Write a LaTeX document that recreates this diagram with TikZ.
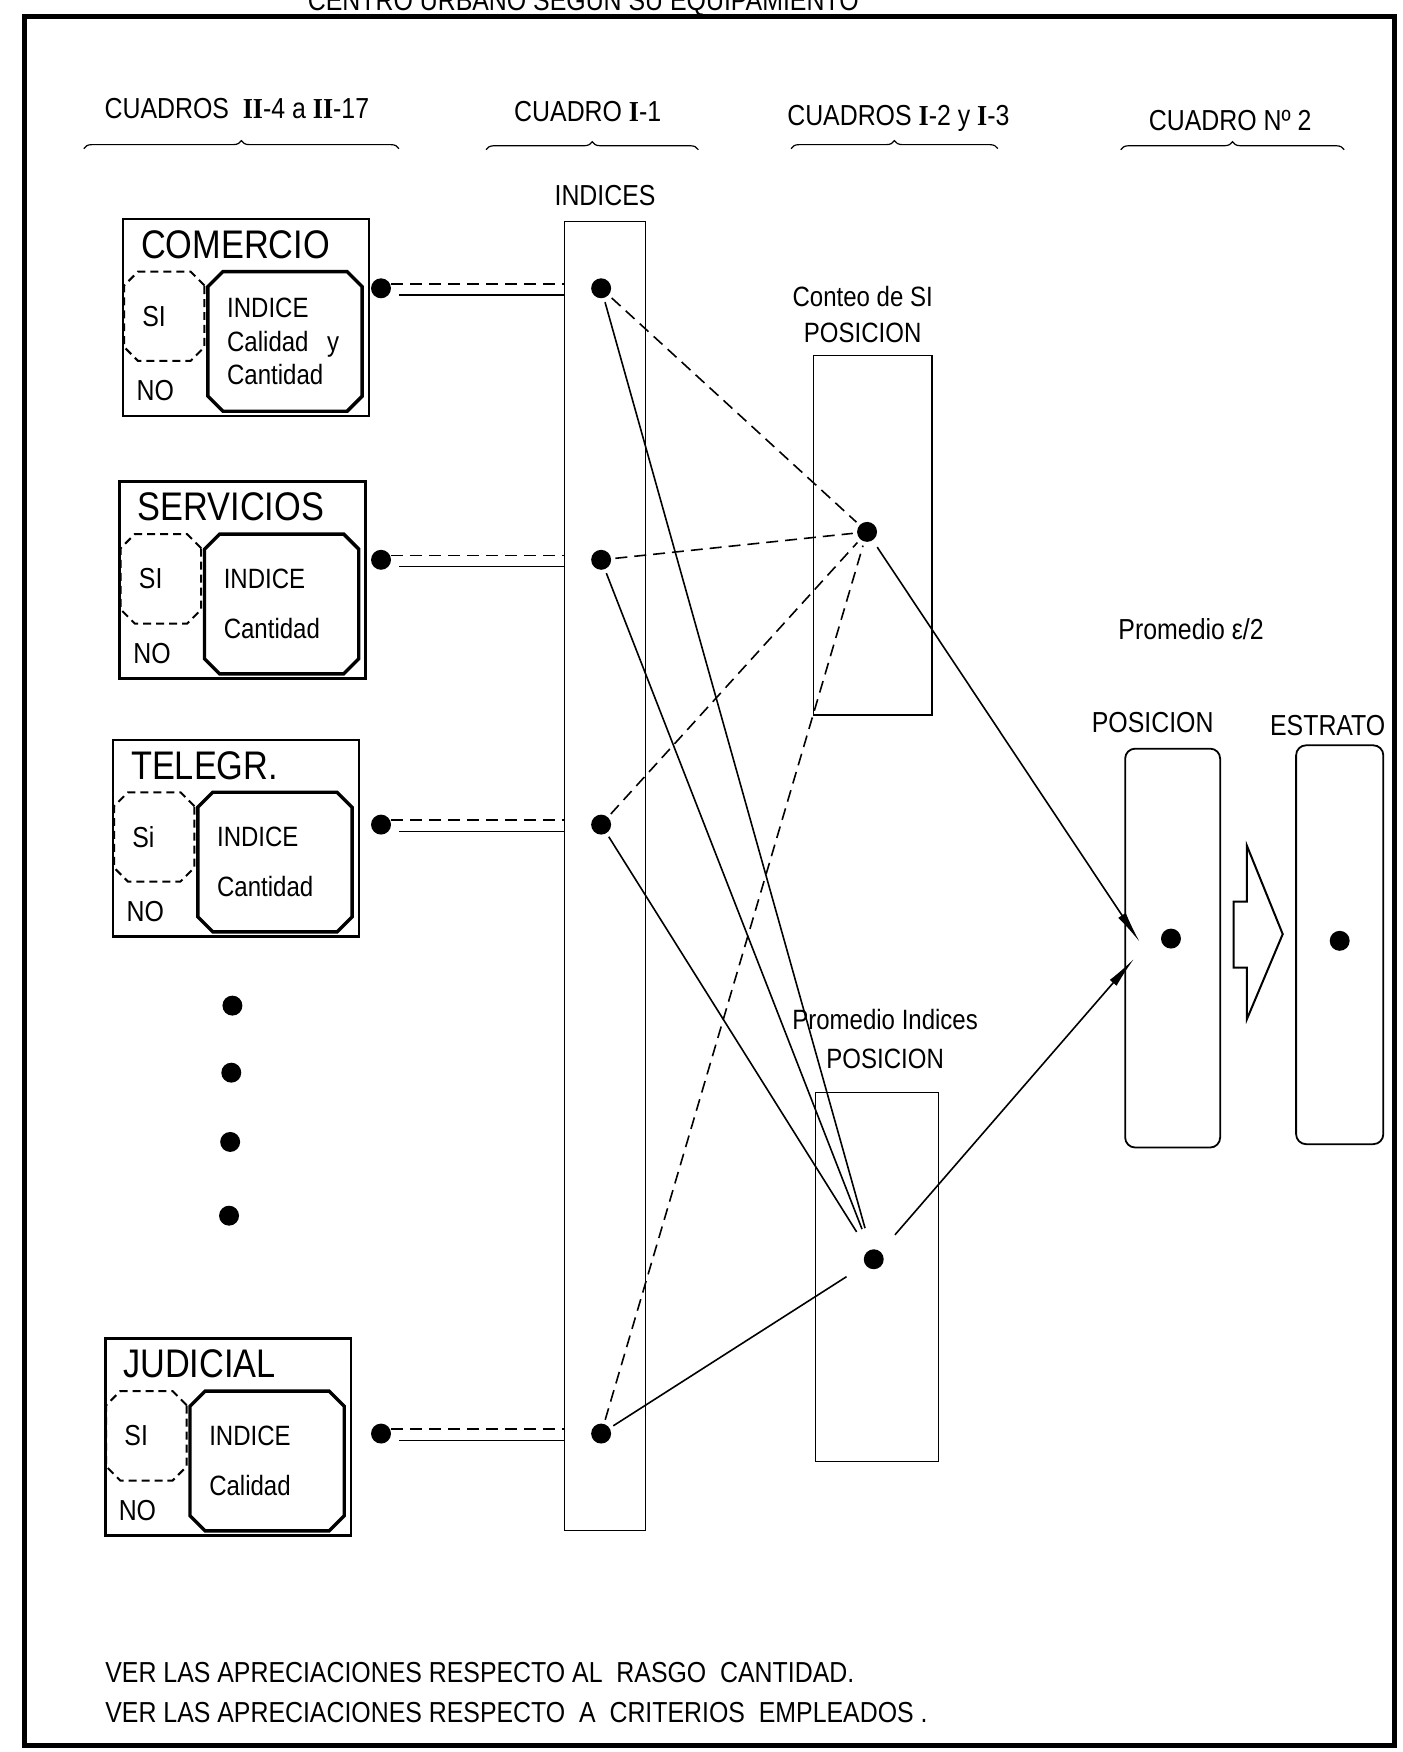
\documentclass[tikz,border=0pt]{standalone}
\usepackage{fontspec}
\setmainfont{Liberation Sans}[FakeStretch=0.86]
\newfontfamily\romanfont{Liberation Serif}[FakeStretch=0.9]
\usepackage{tikz}
\usetikzlibrary{shapes.misc, arrows.meta, positioning, calc, decorations.pathreplacing}
\newcommand{\rom}[1]{{\romanfont\bfseries #1}}

\begin{document}
\begin{tikzpicture}[
    x=0.56pt, y=-0.56pt,
    every node/.style={font=\fontsize{14.5}{17}\selectfont},
    sector/.style={rectangle, draw, line width=1.3pt, minimum width=123.2pt, minimum height=98.6pt, inner sep=0pt, anchor=north west},
    sino/.style={chamfered rectangle, chamfered rectangle xsep=3.5pt, draw, line width=1pt, dash pattern=on 4pt off 2.5pt, minimum width=40.3pt, minimum height=44.8pt, inner sep=0pt, align=left, text width=22pt},
    indbox/.style={chamfered rectangle, chamfered rectangle xsep=4pt, draw, line width=1.7pt, minimum width=77.3pt, minimum height=70pt, inner sep=2pt, align=left, text width=58pt, font=\fontsize{14}{17}\selectfont},
    ttl/.style={font=\fontsize{20}{24}\selectfont, inner sep=0pt},
    column/.style={rectangle, draw, line width=0.6pt, inner sep=0pt},
    tallbox/.style={rectangle, draw, line width=0.9pt, rounded corners=5pt, inner sep=0pt},
    dot/.style={circle, fill=black, inner sep=0pt, minimum size=10pt},
    link/.style={line width=0.8pt},
    dlink/.style={line width=0.8pt, dash pattern=on 6pt off 3.5pt},
    bracestyle/.style={decorate, decoration={brace, amplitude=4pt}, line width=0.6pt},
    bigtip/.style={-{Latex[length=16pt, width=4.5pt]}}
]
\useasboundingbox (0,0) rectangle (1255,1568);

% frame and title
\draw[line width=2.6pt] (22,15) rectangle (1248,1562);
\node[anchor=base] (title) at (522,9) {CENTRO URBANO SEGUN SU EQUIPAMIENTO};

% headers
\node (h1) at (212,97) {CUADROS\ \ \rom{II}-4 a \rom{II}-17};
\node (h2) at (526,100) {CUADRO \rom{I}-1};
\node (h3) at (804,106) {CUADROS \rom{I}-2 y \rom{I}-3};
\node (h4) at (1101,108) {CUADRO Nº 2};
\draw[bracestyle] (75,133) -- (357,133);
\draw[bracestyle] (435,134) -- (625,134);
\draw[bracestyle] (708,133) -- (893,133);
\draw[bracestyle] (1003,134) -- (1203,134);

% columns
\node[column, minimum width=40.9pt, minimum height=656.3pt] (indices) at (541.5,784) {};
\node[above=4pt of indices] (indices-l) {INDICES};
\node[column, minimum width=59.4pt, minimum height=180.3pt] (conteo) at (781,479) {};
\node[above=2.5pt of conteo, xshift=-5pt, align=center, font=\fontsize{14}{18}\selectfont] (conteo-l) {Conteo de SI\\POSICION};
\node[column, minimum width=61.6pt, minimum height=184.8pt] (promedio) at (785,1143) {};
\node[above=8pt of promedio, xshift=4pt, align=center, font=\fontsize{14}{19.6}\selectfont] (promedio-l) {Promedio Indices\\POSICION};
\node[dot] (cdot) at (776,476) {};
\node[dot] (pdot) at (782,1127) {};

% right part
\node[tallbox, minimum width=47.6pt, minimum height=199.9pt] (posicion) at (1049.5,848.5) {};
\node[tallbox, minimum width=43.7pt, minimum height=199.9pt] (estrato) at (1199,845.5) {};
\node[above=4pt of posicion, xshift=-10pt] (posicion-l) {POSICION};
\node[above=1pt of estrato, xshift=-6pt] (estrato-l) {ESTRATO};
\node (promedio-e) at (1066,563) {Promedio ε/2};
\node[dot] (posdot) at (1048,840) {};
\node[dot] (estdot) at (1199,842) {};
\draw[line width=1pt] (1104,807) -- (1116,807) -- (1116,757) -- (1148,836)
    -- (1116,912) -- (1116,866) -- (1104,866) -- cycle;

% arrows into POSICION
\coordinate (tipA) at (1020,843);
\coordinate (tipB) at (1015,858);
\draw[link, bigtip, shorten <=4pt] (cdot) -- (tipA);
\draw[link, bigtip, shorten <=11pt] (pdot) -- (tipB);

% sectors
\foreach \nm/\x/\y/\ttl/\si/\txt/\dy in {
    com/109/195/COMERCIO/SI/{INDICE\\Calidad\ \ y\\Cantidad}/258,
    ser/106/430/SERVICIOS/SI/{INDICE\\[8pt]Cantidad}/501,
    tel/100/661/TELEGR./Si/{INDICE\\[8pt]Cantidad}/738,
    jud/93/1197/JUDICIAL/SI/{INDICE\\[8pt]Calidad}/1283}{
  \node[sector] (\nm) at (\x,\y) {};
  \node[ttl, anchor=west] (\nm-t) at ([xshift=9.5pt, yshift=-13.4pt]\nm.north west) {\ttl};
  \node[sino] (\nm-si) at ([xshift=21.3pt, yshift=-49.3pt]\nm.north west) {\si};
  \node (\nm-n) at ([xshift=16.8pt, yshift=13.4pt]\nm.south west) {NO};
  \node[indbox] (\nm-ind) at ([xshift=81.8pt, yshift=-61.9pt]\nm.north west) {\txt};
  \node[dot] (\nm-dot) at (341,\dy) {};
  \node[dot] (\nm-idx) at (538,\dy) {};
  \draw[dlink] ($(\nm-dot.east)+(0pt,2.2pt)$) -- ($(\nm-dot.east -| indices.west)+(0pt,2.2pt)$);
  \draw[link] ($(\nm-dot.east)+(4pt,-3.4pt)$) -- ($(\nm-dot.east -| indices.west)+(0pt,-3.4pt)$);
  \draw[dlink, shorten <=2pt, shorten >=2pt] (\nm-idx) -- (cdot);
  \draw[link, shorten <=2pt, shorten >=11pt] (\nm-idx) -- (pdot);
}

% more sectors
\foreach \i/\xx/\yy in {1/208/900, 2/207/960, 3/206/1022, 4/205/1088}
  \node[dot] (v\i) at (\xx,\yy) {};

% notes
\node[anchor=west] (note1) at (88,1497) {VER LAS APRECIACIONES RESPECTO AL\ \ RASGO\ \ CANTIDAD.};
\node[anchor=west] (note2) at ([yshift=-20.2pt]note1.west) {VER LAS APRECIACIONES RESPECTO\ \ A\ \ CRITERIOS\ \ EMPLEADOS\ .};
\end{tikzpicture}
\end{document}
